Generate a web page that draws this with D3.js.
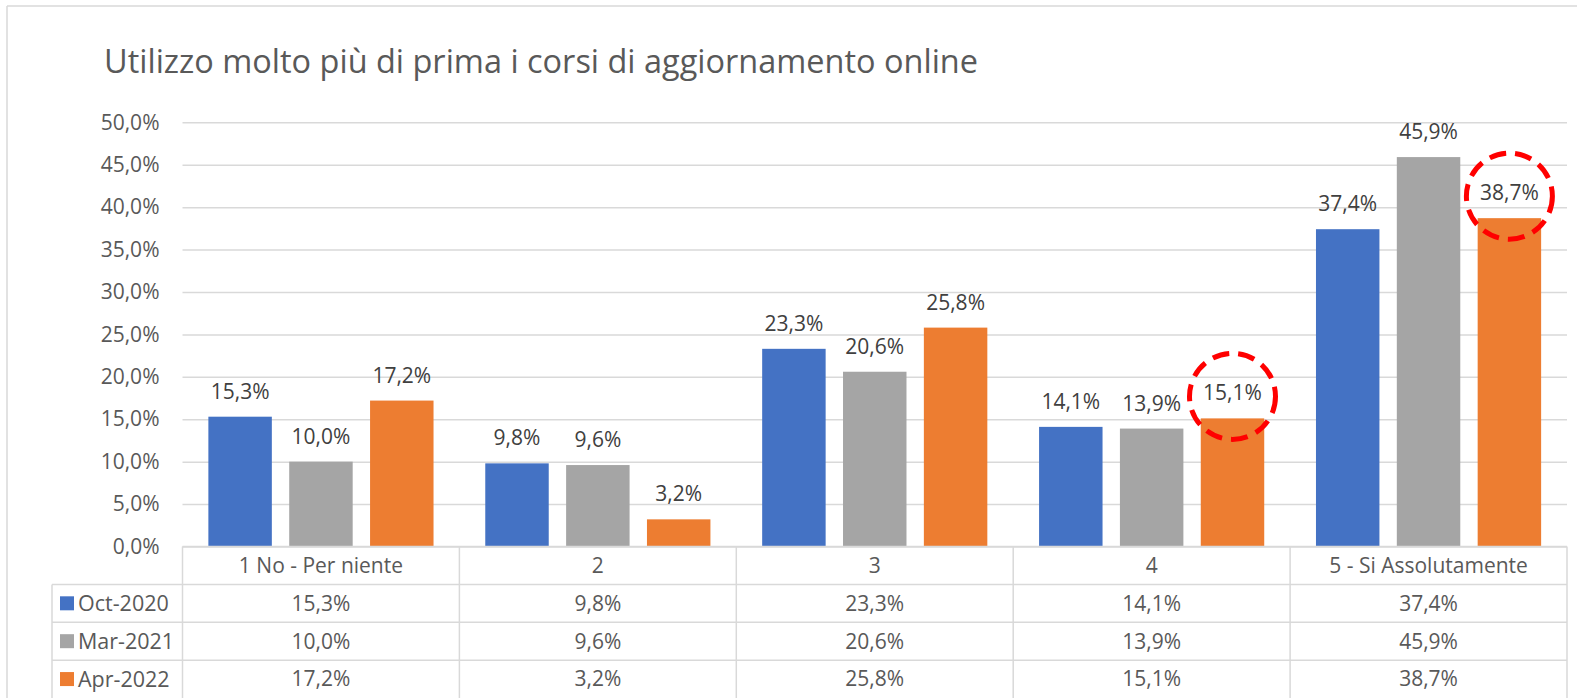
<!DOCTYPE html>
<html>
<head>
<meta charset="utf-8">
<script src="https://cdn.jsdelivr.net/npm/d3@7"></script>
<style>
  body { margin: 0; background: #fff; }
  svg { display: block; }
  text { font-family: "Open Sans", "Noto Sans", sans-serif; }
</style>
</head>
<body>
<svg id="chart" width="1577" height="698"></svg>
<script>
// chart data
const titleText = "Utilizzo molto più di prima i corsi di aggiornamento online";
const categories = ["1 No - Per niente", "2", "3", "4", "5 - Si Assolutamente"];
const seriesNames = ["Oct-2020", "Mar-2021", "Apr-2022"];
const oct2020 = [15.3, 9.8, 23.3, 14.1, 37.4];
const mar2021 = [10.0, 9.6, 20.6, 13.9, 45.9];
const apr2022 = [17.2, 3.2, 25.8, 15.1, 38.7];
const yTicks = [0, 5, 10, 15, 20, 25, 30, 35, 40, 45, 50];
// bars circled in red
const highlightCats = ["4", "5 - Si Assolutamente"];
const highlightSeries = ["Apr-2022", "Apr-2022"];

const seriesValues = [oct2020, mar2021, apr2022];
const colors = ["#4472C4", "#A5A5A5", "#ED7D31"];
const gridColor = "#d9d9d9";

const it = d3.formatLocale({decimal: ",", thousands: ".", grouping: [3], currency: ["", "€"]});
const fmt = v => it.format(".1f")(v) + "%";

const svg = d3.select("#chart");

// outer chart border (left + top)
svg.append("line").attr("x1", 7).attr("x2", 7).attr("y1", 6).attr("y2", 698)
    .attr("stroke", gridColor).attr("stroke-width", 1.5);
svg.append("line").attr("x1", 7).attr("x2", 1577).attr("y1", 6).attr("y2", 6)
    .attr("stroke", gridColor).attr("stroke-width", 1.5);

// title, squeezed to the reference width (narrow Calibri look)
svg.append("text")
    .attr("x", 104).attr("y", 73)
    .attr("fill", "#595959")
    .attr("font-size", 32)
    .attr("textLength", 874)
    .attr("lengthAdjust", "spacingAndGlyphs")
    .text(titleText);

const left = 182.5, right = 1567;
const x0 = d3.scaleBand().domain(categories).range([left, right]);
const x1 = d3.scaleBand().domain(seriesNames).range([0, x0.bandwidth()])
    .paddingInner(0.215).paddingOuter(0.32);
const y = d3.scaleLinear().domain([0, 50]).range([546.5, 122.3]);

// gridlines + y labels
const yAxis = svg.append("g")
    .attr("transform", `translate(${left},0)`)
    .call(d3.axisLeft(y).tickValues(yTicks).tickSize(-(right - left)).tickPadding(23).tickFormat(fmt));
yAxis.select(".domain").remove();
yAxis.selectAll(".tick line").attr("stroke", gridColor).attr("stroke-width", 1.5);
yAxis.selectAll(".tick text").attr("fill", "#595959").attr("font-size", 21)
    .style("font-family", "'Open Sans', sans-serif");

// bars
const flat = [];
categories.forEach((c, i) => {
    seriesNames.forEach((s, j) => flat.push({cat: c, series: s, value: seriesValues[j][i], color: colors[j]}));
});

svg.append("g").selectAll("rect")
    .data(flat)
    .enter().append("rect")
    .attr("x", d => x0(d.cat) + x1(d.series))
    .attr("y", d => y(d.value))
    .attr("width", x1.bandwidth())
    .attr("height", d => y(0) - y(d.value))
    .attr("fill", d => d.color);

svg.append("g").selectAll("text")
    .data(flat)
    .enter().append("text")
    .attr("x", d => x0(d.cat) + x1(d.series) + x1.bandwidth() / 2)
    .attr("y", d => y(d.value) - 18)
    .attr("text-anchor", "middle")
    .attr("font-size", 21)
    .attr("fill", "#404040")
    .text(d => fmt(d.value));

// red dashed circles
svg.append("g").selectAll("circle")
    .data(highlightCats.map((c, i) => flat.find(d => d.cat === c && d.series === highlightSeries[i])))
    .enter().append("circle")
    .attr("cx", d => x0(d.cat) + x1(d.series) + x1.bandwidth() / 2)
    .attr("cy", d => y(d.value) - 22)
    .attr("r", 43)
    .attr("fill", "none")
    .attr("stroke", "#FF0000")
    .attr("stroke-width", 5)
    .attr("stroke-dasharray", "17 9");

// data table
const tableLeft = 52;
const rows = d3.scaleBand().domain(["header", ...seriesNames]).range([y(0), 698]);
const table = svg.append("g").attr("stroke", gridColor).attr("stroke-width", 1.5);

table.append("line").attr("x1", left).attr("x2", right).attr("y1", rows("header")).attr("y2", rows("header"));
seriesNames.forEach(s => {
    table.append("line").attr("x1", tableLeft).attr("x2", right).attr("y1", rows(s)).attr("y2", rows(s));
});
table.append("line").attr("x1", tableLeft).attr("x2", tableLeft).attr("y1", rows(seriesNames[0])).attr("y2", 698);
[...categories.map(c => x0(c)), right].forEach(xv => {
    table.append("line").attr("x1", xv).attr("x2", xv).attr("y1", rows("header")).attr("y2", 698);
});

// header row
svg.append("g").selectAll("text")
    .data(categories)
    .enter().append("text")
    .attr("x", d => x0(d) + x0.bandwidth() / 2)
    .attr("y", rows("header") + rows.bandwidth() / 2)
    .attr("dy", "0.35em")
    .attr("text-anchor", "middle")
    .attr("font-size", 21)
    .attr("fill", "#595959")
    .text(d => d);

// legend keys + values
seriesNames.forEach((s, j) => {
    const cy = rows(s) + rows.bandwidth() / 2;
    svg.append("rect").attr("x", 60).attr("y", cy - 7).attr("width", 14).attr("height", 14).attr("fill", colors[j]);
    svg.append("text").attr("x", 78).attr("y", cy).attr("dy", "0.35em")
        .attr("font-size", 21.5).attr("fill", "#595959").text(s);
    svg.append("g").selectAll("text")
        .data(seriesValues[j])
        .enter().append("text")
        .attr("x", (d, i) => x0(categories[i]) + x0.bandwidth() / 2)
        .attr("y", cy)
        .attr("dy", "0.35em")
        .attr("text-anchor", "middle")
        .attr("font-size", 21)
        .attr("fill", "#595959")
        .text(d => fmt(d));
});
</script>
</body>
</html>
